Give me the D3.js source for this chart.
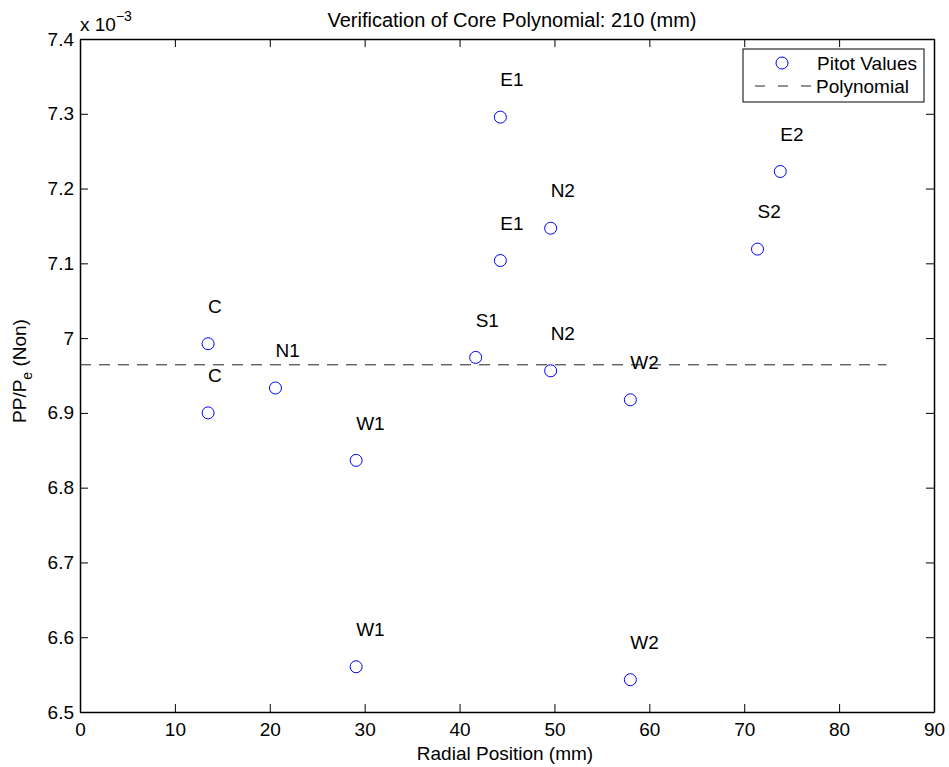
<!DOCTYPE html>
<html>
<head>
<meta charset="utf-8">
<script src="https://cdn.jsdelivr.net/npm/d3@7"></script>
<style>
  body { margin: 0; background: #fff; }
  text { font-family: "Liberation Sans", Arial, Helvetica, sans-serif; fill: #000; }
</style>
</head>
<body>
<svg id="chart" width="949" height="767"></svg>
<script>
// measured pitot values (radial position mm, PP/Pe x 1e-3)
var labels = ['C', 'C', 'N1', 'W1', 'W1', 'S1', 'E1', 'E1', 'N2', 'N2', 'W2', 'W2', 'S2', 'E2'];
var radial = [13.5, 13.5, 20.6, 29.1, 29.1, 41.7, 44.3, 44.3, 49.6, 49.6, 58.0, 58.0, 71.4, 73.8];
var ppValues = [6.9925, 6.9000, 6.9333, 6.8365, 6.5605, 6.9742, 7.2955, 7.1038, 7.1470, 6.9563, 6.9175, 6.5432, 7.1190, 7.2228];
var polyX = [0, 85];
var polyY = [6.9643, 6.9643];
var xTicks = [0, 10, 20, 30, 40, 50, 60, 70, 80, 90];
var yTicks = [6.5, 6.6, 6.7, 6.8, 6.9, 7.0, 7.1, 7.2, 7.3, 7.4];
var labelOffset = 0.05;

var svg = d3.select('#chart');
var m = { left: 80, right: 934, top: 39, bottom: 712 };
var fs = '19px';

var x = d3.scaleLinear().domain([0, 90]).range([m.left, m.right]);
var y = d3.scaleLinear().domain([6.5, 7.4]).range([m.bottom, m.top]);

function fmtY(d) { return d === 7 ? '7' : d3.format('.1f')(d); }

// axes with inward ticks on all four sides (box)
svg.append('g')
  .attr('transform', 'translate(0,' + m.bottom + ')')
  .call(d3.axisBottom(x).tickValues(xTicks).tickSizeInner(-8).tickSizeOuter(0).tickPadding(11));
svg.append('g')
  .attr('transform', 'translate(0,' + m.top + ')')
  .call(d3.axisTop(x).tickValues(xTicks).tickSizeInner(-8).tickSizeOuter(0).tickFormat(''));
svg.append('g')
  .attr('transform', 'translate(' + m.left + ',0)')
  .call(d3.axisLeft(y).tickValues(yTicks).tickSizeInner(-8).tickSizeOuter(0).tickPadding(6).tickFormat(fmtY));
svg.append('g')
  .attr('transform', 'translate(' + m.right + ',0)')
  .call(d3.axisRight(y).tickValues(yTicks).tickSizeInner(-8).tickSizeOuter(0).tickFormat(''));

svg.selectAll('.domain').attr('stroke', '#000').attr('stroke-width', 1.5);
svg.selectAll('.tick line').attr('stroke', '#000');
svg.selectAll('.tick text').style('font-size', fs).attr('fill', '#000');

// polynomial
svg.append('path')
  .datum(d3.zip(polyX, polyY))
  .attr('d', d3.line().x(function (d) { return x(d[0]); }).y(function (d) { return y(d[1]); }))
  .attr('fill', 'none')
  .attr('stroke', '#222')
  .attr('stroke-width', 1)
  .attr('stroke-dasharray', '11,8');

// points + labels
var pts = d3.range(labels.length);
svg.selectAll('circle.pt')
  .data(pts)
  .enter()
  .append('circle')
  .attr('class', 'pt')
  .attr('cx', function (i) { return x(radial[i]); })
  .attr('cy', function (i) { return y(ppValues[i]); })
  .attr('r', 6)
  .attr('fill', 'none')
  .attr('stroke', '#0000ff')
  .attr('stroke-width', 1);

svg.selectAll('text.lbl')
  .data(pts)
  .enter()
  .append('text')
  .attr('class', 'lbl')
  .attr('x', function (i) { return x(radial[i]); })
  .attr('y', function (i) { return y(ppValues[i] + labelOffset); })
  .attr('dy', '0.35em')
  .style('font-size', fs)
  .text(function (i) { return labels[i]; });

// exponent marker
var expo = svg.append('text').attr('x', 80).attr('y', 31).style('font-size', fs);
expo.append('tspan').text('x 10');
expo.append('tspan').attr('dy', -10).style('font-size', '14px').text('\u22123');

// title and axis labels
svg.append('text')
  .attr('x', 512).attr('y', 27)
  .attr('text-anchor', 'middle')
  .style('font-size', '20px')
  .text('Verification of Core Polynomial: 210 (mm)');

svg.append('text')
  .attr('x', 505).attr('y', 760)
  .attr('text-anchor', 'middle')
  .style('font-size', fs)
  .text('Radial Position (mm)');

var yl = svg.append('text')
  .attr('transform', 'translate(26,371) rotate(-90)')
  .attr('text-anchor', 'middle')
  .style('font-size', fs);
yl.append('tspan').text('PP/P');
yl.append('tspan').attr('dy', 6).style('font-size', '14px').text('e');
yl.append('tspan').attr('dy', -6).text(' (Non)');

// legend
var lg = svg.append('g');
lg.append('rect')
  .attr('x', 743).attr('y', 49).attr('width', 181).attr('height', 53)
  .attr('fill', '#fff').attr('stroke', '#000').attr('stroke-width', 1);
lg.append('circle')
  .attr('cx', 782).attr('cy', 63).attr('r', 6)
  .attr('fill', 'none').attr('stroke', '#0000ff');
lg.append('text').attr('x', 817).attr('y', 63).attr('dy', '0.35em')
  .style('font-size', fs).text('Pitot Values');
lg.append('line')
  .attr('x1', 755).attr('x2', 811).attr('y1', 86).attr('y2', 86)
  .attr('stroke', '#222').attr('stroke-dasharray', '10,13');
lg.append('text').attr('x', 816).attr('y', 86).attr('dy', '0.35em')
  .style('font-size', fs).text('Polynomial');
</script>
</body>
</html>
